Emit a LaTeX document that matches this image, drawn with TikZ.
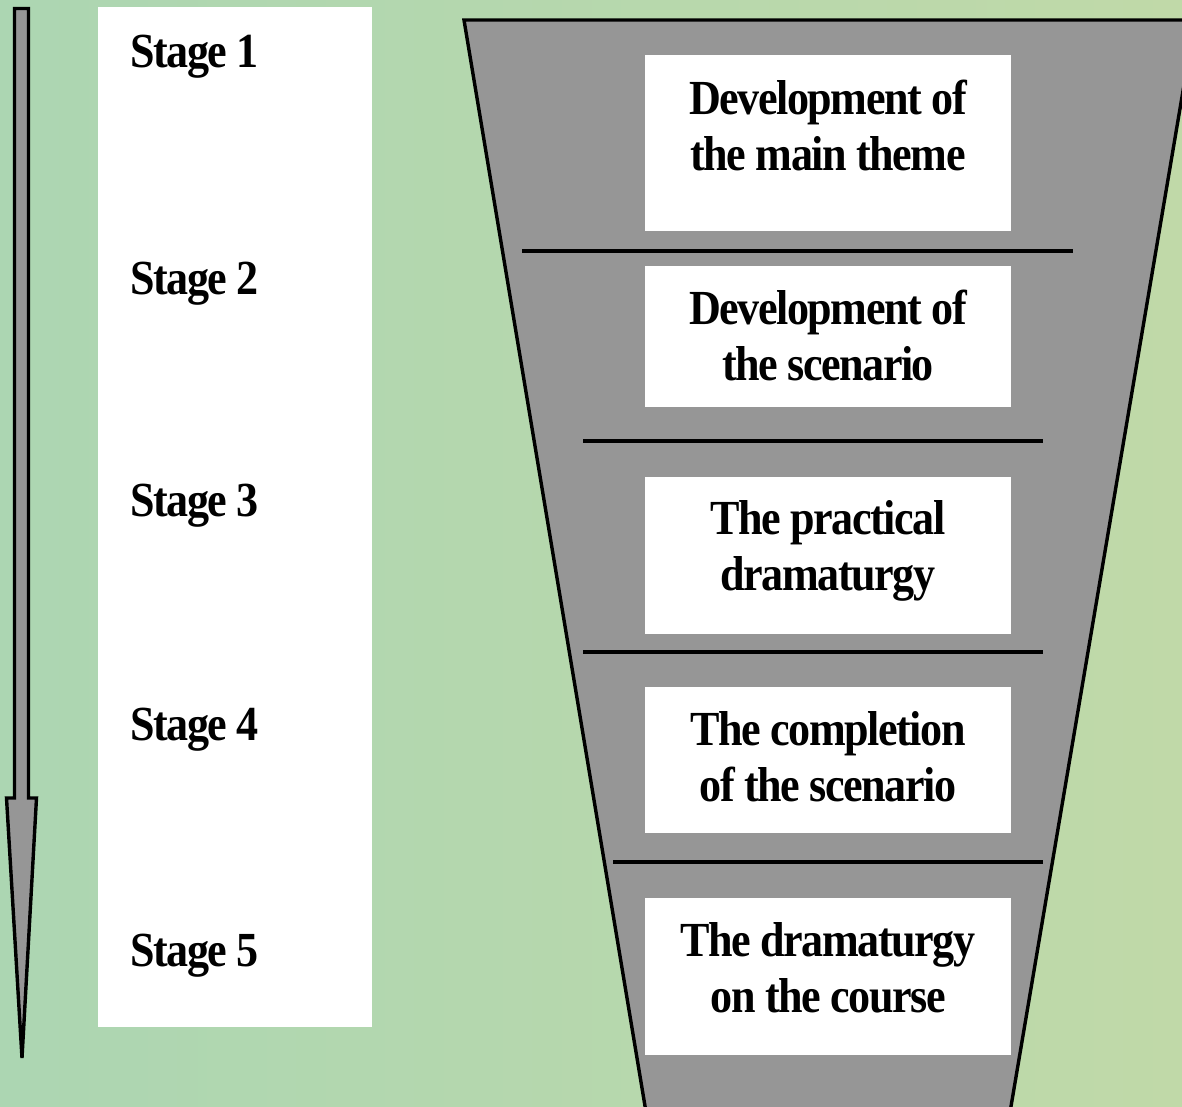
\documentclass[tikz,border=0pt]{standalone}
\usepackage{fontspec}
\setmainfont{Liberation Serif}[FakeStretch=0.9,LetterSpace=-3]
\usetikzlibrary{positioning}
\definecolor{bgleft}{RGB}{172,214,178}
\definecolor{bgright}{RGB}{192,217,168}
\definecolor{funnelgray}{RGB}{150,150,150}

\begin{document}
\begin{tikzpicture}[x=0.5pt,y=-0.5pt,
    bold/.style={font=\fontsize{24.5}{28}\selectfont\bfseries},
    stagelbl/.style={bold,anchor=base west,inner sep=0pt},
    box/.style={fill=white,inner sep=0pt,minimum width=183pt,anchor=north},
    boxtext/.style={bold,align=center,inner sep=0pt},
    sep/.style={line width=1.6pt}]
        \useasboundingbox (0,0) rectangle (1182,1107);
        \shade[left color=bgleft,right color=bgright] (0,0) rectangle (1182,1107);

        % funnel
        \begin{scope}
            \clip (0,0) rectangle (1182,1107);
            \filldraw[fill=funnelgray,line width=1.7pt]
                (464,20) -- (1195,20) -- (1007,1130) -- (649,1130) -- cycle;
        \end{scope}

        % time arrow
        \filldraw[fill=funnelgray,line width=1.7pt]
            (14.5,8.5) -- (28.5,8.5) -- (28.5,798) -- (36.5,798)
            -- (22,1058) -- (6.5,798) -- (14.5,798) -- cycle;

        % stages panel
        \node[fill=white,inner sep=0pt,minimum width=137pt,minimum height=510pt,
              anchor=north west] (stages) at (98,7) {};
        \foreach \i/\y in {1/68,2/294,3/516,4/740,5/966}
            \node[stagelbl] (stage\i) at (130,\y) {Stage \i};

        \node[box,minimum height=88pt]   (b1) at (828,55) {};
        \node[box,minimum height=70.5pt] (b2) at (828,266) {};
        \node[box,minimum height=78.5pt] (b3) at (828,477) {};
        \node[box,minimum height=73pt]   (b4) at (828,687) {};
        \node[box,minimum height=78.5pt] (b5) at (828,898) {};

        \node[boxtext] (t1) at (828,125) {Development of\\the main theme};
        \node[boxtext] (t2) at (828,335) {Development of\\the scenario};
        \node[boxtext] (t3) at (828,551) {The practical\\dramaturgy};
        \node[boxtext] (t4) at (828,757) {The completion\\of the scenario};
        \node[boxtext] (t5) at (828,968) {The dramaturgy\\on the course};

        \draw[sep] (522,251) -- (1073,251);
        \draw[sep] (583,441) -- (1043,441);
        \draw[sep] (583,652) -- (1043,652);
        \draw[sep] (613,862) -- (1043,862);
\end{tikzpicture}
\end{document}
